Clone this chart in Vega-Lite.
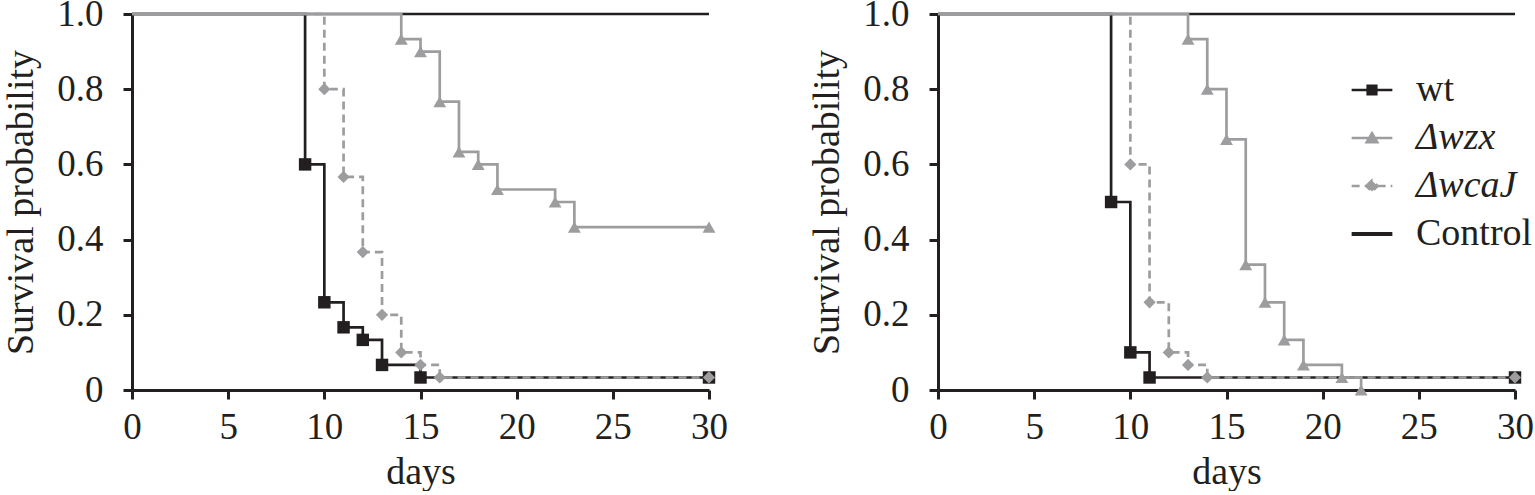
{
  "$schema": "https://vega.github.io/schema/vega-lite/v6.json",
  "background": "white",
  "padding": {"left": 2, "top": -5, "right": 0, "bottom": 0},
  "spacing": 80,
  "config": {
    "font": "'Liberation Serif', 'Times New Roman', Times, serif",
    "view": {"stroke": null},
    "axis": {
      "grid": false,
      "domainColor": "#231f20", "domainWidth": 3,
      "tickColor": "#231f20", "tickWidth": 3, "tickSize": 9,
      "labelFont": "'Liberation Serif', 'Times New Roman', Times, serif", "labelFontSize": 37, "labelColor": "#231f20",
      "labelFlush": false, "labelOverlap": false, "labelPadding": 10,
      "titleFont": "'Liberation Serif', 'Times New Roman', Times, serif", "titleFontSize": 38, "titleFontWeight": "normal", "titleColor": "#231f20"
    },
    "axisY": {"labelPadding": 20, "titlePadding": 16},
    "legend": {
      "labelFont": "'Liberation Serif', 'Times New Roman', Times, serif",
      "labelFontSize": 38, "labelColor": "#231f20",
      "symbolSize": 72, "symbolStrokeWidth": 2.7, "symbolOpacity": 1,
      "rowPadding": 10, "labelOffset": 25, "symbolOffset": 0
    }
  },
  "resolve": {"scale": {"color": "independent", "strokeDash": "independent"}},
  "data": {"values": [
    {"panel": "A", "series": "Control", "day": 0, "surv": 1},
    {"panel": "A", "series": "Control", "day": 30, "surv": 1},
    {"panel": "A", "series": "wt", "day": 0, "surv": 1},
    {"panel": "A", "series": "wt", "day": 9, "surv": 0.6},
    {"panel": "A", "series": "wt", "day": 10, "surv": 0.2333},
    {"panel": "A", "series": "wt", "day": 11, "surv": 0.1667},
    {"panel": "A", "series": "wt", "day": 12, "surv": 0.1333},
    {"panel": "A", "series": "wt", "day": 13, "surv": 0.0667},
    {"panel": "A", "series": "wt", "day": 15, "surv": 0.0333},
    {"panel": "A", "series": "wt", "day": 30, "surv": 0.0333},
    {"panel": "A", "series": "ΔwcaJ", "day": 0, "surv": 1},
    {"panel": "A", "series": "ΔwcaJ", "day": 10, "surv": 0.8},
    {"panel": "A", "series": "ΔwcaJ", "day": 11, "surv": 0.5667},
    {"panel": "A", "series": "ΔwcaJ", "day": 12, "surv": 0.3667},
    {"panel": "A", "series": "ΔwcaJ", "day": 13, "surv": 0.2},
    {"panel": "A", "series": "ΔwcaJ", "day": 14, "surv": 0.1},
    {"panel": "A", "series": "ΔwcaJ", "day": 15, "surv": 0.0667},
    {"panel": "A", "series": "ΔwcaJ", "day": 16, "surv": 0.0333},
    {"panel": "A", "series": "ΔwcaJ", "day": 30, "surv": 0.0333},
    {"panel": "A", "series": "Δwzx", "day": 0, "surv": 1},
    {"panel": "A", "series": "Δwzx", "day": 14, "surv": 0.9333},
    {"panel": "A", "series": "Δwzx", "day": 15, "surv": 0.9},
    {"panel": "A", "series": "Δwzx", "day": 16, "surv": 0.7667},
    {"panel": "A", "series": "Δwzx", "day": 17, "surv": 0.6333},
    {"panel": "A", "series": "Δwzx", "day": 18, "surv": 0.6},
    {"panel": "A", "series": "Δwzx", "day": 19, "surv": 0.5333},
    {"panel": "A", "series": "Δwzx", "day": 22, "surv": 0.5},
    {"panel": "A", "series": "Δwzx", "day": 23, "surv": 0.4333},
    {"panel": "A", "series": "Δwzx", "day": 30, "surv": 0.4333},
    {"panel": "B", "series": "Control", "day": 0, "surv": 1},
    {"panel": "B", "series": "Control", "day": 30, "surv": 1},
    {"panel": "B", "series": "wt", "day": 0, "surv": 1},
    {"panel": "B", "series": "wt", "day": 9, "surv": 0.5},
    {"panel": "B", "series": "wt", "day": 10, "surv": 0.1},
    {"panel": "B", "series": "wt", "day": 11, "surv": 0.0333},
    {"panel": "B", "series": "wt", "day": 30, "surv": 0.0333},
    {"panel": "B", "series": "ΔwcaJ", "day": 0, "surv": 1},
    {"panel": "B", "series": "ΔwcaJ", "day": 10, "surv": 0.6},
    {"panel": "B", "series": "ΔwcaJ", "day": 11, "surv": 0.2333},
    {"panel": "B", "series": "ΔwcaJ", "day": 12, "surv": 0.1},
    {"panel": "B", "series": "ΔwcaJ", "day": 13, "surv": 0.0667},
    {"panel": "B", "series": "ΔwcaJ", "day": 14, "surv": 0.0333},
    {"panel": "B", "series": "ΔwcaJ", "day": 30, "surv": 0.0333},
    {"panel": "B", "series": "Δwzx", "day": 0, "surv": 1},
    {"panel": "B", "series": "Δwzx", "day": 13, "surv": 0.9333},
    {"panel": "B", "series": "Δwzx", "day": 14, "surv": 0.8},
    {"panel": "B", "series": "Δwzx", "day": 15, "surv": 0.6667},
    {"panel": "B", "series": "Δwzx", "day": 16, "surv": 0.3333},
    {"panel": "B", "series": "Δwzx", "day": 17, "surv": 0.2333},
    {"panel": "B", "series": "Δwzx", "day": 18, "surv": 0.1333},
    {"panel": "B", "series": "Δwzx", "day": 19, "surv": 0.0667},
    {"panel": "B", "series": "Δwzx", "day": 21, "surv": 0.0333},
    {"panel": "B", "series": "Δwzx", "day": 22, "surv": 0}
  ]},
  "hconcat": [
    {
      "width": 577, "height": 376,
      "transform": [{"filter": "datum.panel === 'A'"}],
      "encoding": {
        "x": {"field": "day", "type": "quantitative", "scale": {"domain": [0, 30], "nice": false, "zero": false},
              "axis": {"values": [0, 5, 10, 15, 20, 25, 30], "title": "days", "titlePadding": 8}},
        "y": {"field": "surv", "type": "quantitative", "scale": {"domain": [0, 1], "nice": false},
              "axis": {"values": [0, 0.2, 0.4, 0.6, 0.8, 1], "labelExpr": "datum.value == 0 ? '0' : format(datum.value, '.1f')", "title": "Survival probability"}}
      },
      "layer": [
        {
          "mark": {"type": "line", "interpolate": "step-after", "strokeWidth": 2.7, "clip": false},
          "encoding": {
            "color": {"field": "series", "type": "nominal", "scale": {"domain": ["wt", "Δwzx", "ΔwcaJ", "Control"], "range": ["#231f20", "#9d9d9f", "#9d9d9f", "#231f20"]}, "legend": null},
            "strokeDash": {"field": "series", "type": "nominal", "scale": {"domain": ["wt", "Δwzx", "ΔwcaJ", "Control"], "range": [[1, 0], [1, 0], [8, 5], [1, 0]]}, "legend": null}
          }
        },
        {
          "transform": [{"filter": "datum.day > 0 && datum.series === 'wt'"}],
          "mark": {"type": "point", "shape": "square", "filled": true, "opacity": 1, "size": 155, "color": "#231f20", "clip": false}
        },
        {
          "transform": [{"filter": "datum.day > 0 && datum.series === 'ΔwcaJ'"}],
          "mark": {"type": "point", "shape": "diamond", "filled": true, "opacity": 1, "size": 150, "color": "#9d9d9f", "clip": false}
        },
        {
          "transform": [{"filter": "datum.day > 0 && datum.series === 'Δwzx'"}],
          "mark": {"type": "point", "shape": "triangle-up", "filled": true, "opacity": 1, "size": 165, "color": "#9d9d9f", "clip": false}
        }
      ]
    },
    {
      "width": 577, "height": 376,
      "transform": [{"filter": "datum.panel === 'B'"}],
      "encoding": {
        "x": {"field": "day", "type": "quantitative", "scale": {"domain": [0, 30], "nice": false, "zero": false},
              "axis": {"values": [0, 5, 10, 15, 20, 25, 30], "title": "days", "titlePadding": 8}},
        "y": {"field": "surv", "type": "quantitative", "scale": {"domain": [0, 1], "nice": false},
              "axis": {"values": [0, 0.2, 0.4, 0.6, 0.8, 1], "labelExpr": "datum.value == 0 ? '0' : format(datum.value, '.1f')", "title": "Survival probability"}}
      },
      "layer": [
        {
          "mark": {"type": "line", "interpolate": "step-after", "strokeWidth": 2.7, "clip": false},
          "encoding": {
            "color": {"field": "series", "type": "nominal", "scale": {"domain": ["wt", "Δwzx", "ΔwcaJ", "Control"], "range": ["#231f20", "#9d9d9f", "#9d9d9f", "#231f20"]},
              "legend": {
                "orient": "none", "legendX": 415, "legendY": 57, "title": null,
                "encoding": {
                  "symbols": {
                    "shape": {"value": {"expr": "datum.value === 'wt' ? 'M-4.8,0H4.8M-1,-1H1V1H-1Z' : datum.value === 'Δwzx' ? 'M-4.8,0H4.8M0,-1.1L-1.2,0.95H1.2Z' : datum.value === 'ΔwcaJ' ? 'M-4.8,0H4.8M-1.3,0L0,-1.3L1.3,0L0,1.3Z' : 'M-4.8,0H4.8'"}},
                    "fill": {"value": {"expr": "datum.value === 'wt' || datum.value === 'Control' ? '#231f20' : '#9d9d9f'"}},
                    "stroke": {"value": {"expr": "datum.value === 'wt' || datum.value === 'Control' ? '#231f20' : '#9d9d9f'"}},
                    "strokeDash": {"value": {"expr": "datum.value === 'ΔwcaJ' ? [6, 4] : [1, 0]"}},
                    "strokeWidth": {"value": {"expr": "datum.value === 'Control' ? 4 : 2.7"}},
                    "opacity": {"value": 1}
                  },
                  "labels": {
                    "fontStyle": {"value": {"expr": "datum.value === 'wt' || datum.value === 'Control' ? 'normal' : 'italic'"}}
                  }
                }
              }},
            "strokeDash": {"field": "series", "type": "nominal", "scale": {"domain": ["wt", "Δwzx", "ΔwcaJ", "Control"], "range": [[1, 0], [1, 0], [8, 5], [1, 0]]}, "legend": null}
          }
        },
        {
          "transform": [{"filter": "datum.day > 0 && datum.series === 'wt'"}],
          "mark": {"type": "point", "shape": "square", "filled": true, "opacity": 1, "size": 155, "color": "#231f20", "clip": false}
        },
        {
          "transform": [{"filter": "datum.day > 0 && datum.series === 'ΔwcaJ'"}],
          "mark": {"type": "point", "shape": "diamond", "filled": true, "opacity": 1, "size": 150, "color": "#9d9d9f", "clip": false}
        },
        {
          "transform": [{"filter": "datum.day > 0 && datum.series === 'Δwzx'"}],
          "mark": {"type": "point", "shape": "triangle-up", "filled": true, "opacity": 1, "size": 165, "color": "#9d9d9f", "clip": false}
        }
      ]
    }
  ]
}
